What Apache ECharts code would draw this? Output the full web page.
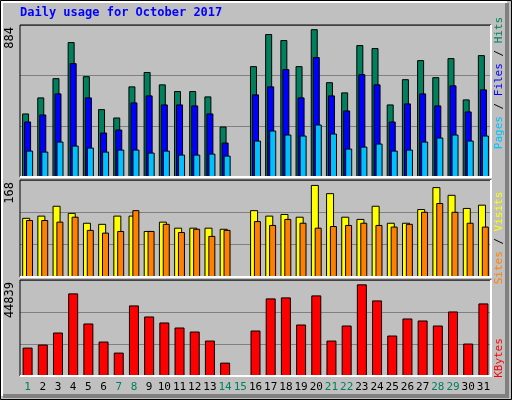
<!DOCTYPE html>
<html><head><meta charset="utf-8">
<script src="https://cdn.jsdelivr.net/npm/echarts@6/dist/echarts.min.js"></script>
<style>html,body{margin:0;padding:0;background:#c0c0c0}#chart{width:512px;height:400px}</style>
</head><body><div id="chart"></div>
<script>
// Daily usage – webalizer style, three stacked panels
const days = ["1","2","3","4","5","6","7","8","9","10","11","12","13","14","15","16","17","18","19","20","21","22","23","24","25","26","27","28","29","30","31"];
const weekend = ["1","7","8","14","15","21","22","28","29"];
const hits  = [380,476,591,807,603,406,356,542,628,554,514,514,482,302,0,663,855,819,663,884,567,506,789,771,434,585,699,597,711,464,729];
const files = [332,374,500,681,476,266,284,446,488,434,434,428,380,206,0,494,542,645,476,717,488,398,615,554,332,440,500,428,548,392,524];
const pages = [158,152,212,188,176,152,164,164,146,158,134,134,140,128,0,218,278,254,248,314,260,170,182,200,158,164,212,236,254,218,248];
const visits = [108,112,130,117,99,97,112,112,84,101,90,90,90,88,0,122,112,115,110,168,153,110,106,130,99,99,124,164,150,126,132];
const sites  = [104,104,101,110,86,81,84,122,84,97,82,88,75,86,0,102,95,106,99,90,93,95,99,95,92,97,119,135,119,99,92];
const kbytes = [13900,15380,21270,40410,25690,16850,11450,34520,29120,26180,23720,21760,17340,6540,0,22250,37960,38450,25190,39430,17340,24700,44830,36970,19800,28140,27160,24700,31570,15870,35500];
const maxLabels = ["884", "168", "44839"];

const FONT = "DejaVu Sans Mono";
const chart = echarts.init(document.getElementById("chart"));

const panels = [
  { top: 25, height: 152, max: 909, interval: 303 },
  { top: 180, height: 97, max: 177, interval: 59 },
  { top: 280, height: 96, max: 46960, interval: 15653.33 },
];

const grids = panels.map((p) => ({
  left: 20, width: 471, top: p.top, height: p.height,
  show: true, backgroundColor: "#c0c0c0", borderColor: "#000", borderWidth: 0,
}));

const xAxes = panels.map((p, i) => ({
  type: "category", gridIndex: i, data: days,
  axisLine: { show: false }, axisTick: { show: false },
  axisLabel: i === 2 ? {
    show: true, interval: 0, margin: 6, fontFamily: FONT, fontSize: 11,
    formatter: (v) => (weekend.includes(v) ? "{w|" + v + "}" : v),
    color: "#000", rich: { w: { color: "#00805c", fontFamily: FONT, fontSize: 11 } },
  } : { show: false },
}));

const yAxes = panels.map((p, i) => ({
  type: "value", gridIndex: i, min: 0, max: p.max, interval: p.interval,
  axisLabel: { show: false }, axisLine: { show: false }, axisTick: { show: false },
  splitLine: { lineStyle: { color: "#808080", width: 1 } },
}));

function bar(name, data, color, xi, width, gap) {
  return {
    name, type: "bar", xAxisIndex: xi, yAxisIndex: xi, data,
    barWidth: width, barGap: gap, animation: false,
    itemStyle: { color, borderColor: "#000", borderWidth: 1 },
  };
}

// bevelled frames around the panels
const frames = [];
panels.forEach((p) => {
  frames.push({ type: "polyline", shape: { points: [[20, p.top + p.height], [20, p.top], [491, p.top]] }, style: { stroke: "#000", lineWidth: 1, fill: null }, z: 10 });
  frames.push({ type: "polyline", shape: { points: [[20, p.top + p.height], [491, p.top + p.height], [491, p.top]] }, style: { stroke: "#fff", lineWidth: 2, fill: null }, z: 10 });
});

const sideLabels = [
  { y: 83, rich: [["Pages", "#00c0ff"], [" / ", "#000"], ["Files", "#0000ff"], [" / ", "#000"], ["Hits", "#00805c"]] },
  { y: 238, rich: [["Sites", "#ff8000"], [" / ", "#000"], ["Visits", "#ffff00"]] },
  { y: 358, rich: [["KBytes", "#ff0000"]] },
];

const graphics = [
  { type: "rect", shape: { x: 0.5, y: 0.5, width: 511, height: 399 }, style: { fill: null, stroke: "#000", lineWidth: 1 }, z: 20 },
  { type: "polyline", shape: { points: [[507, 3], [507, 396], [3, 396]] }, style: { stroke: "#808080", lineWidth: 4, fill: null }, z: 20 },
  { type: "polyline", shape: { points: [[2, 396], [2, 2], [507, 2]] }, style: { stroke: "#fff", lineWidth: 2, fill: null }, z: 20 },
  { type: "text", left: 20, top: 7, style: { text: "Daily usage for October 2017", fill: "#0000ff", font: "bold 12px " + FONT }, z: 20 },
  ...frames,
  ...panels.map((p, i) => ({
    type: "text", x: 10, y: p.top + 2, rotation: Math.PI / 2,
    style: { text: maxLabels[i], fill: "#000", font: "12px " + FONT, align: "right", verticalAlign: "middle" }, z: 20,
  })),
  ...sideLabels.map((s) => {
    const rich = {};
    s.rich.forEach((r, k) => { rich["r" + k] = { fill: r[1], font: "11px " + FONT }; });
    return {
      type: "text", x: 499, y: s.y, rotation: Math.PI / 2,
      style: { text: s.rich.map((r, k) => "{r" + k + "|" + r[0] + "}").join(""), rich, align: "center", verticalAlign: "middle" }, z: 20,
    };
  }),
];

chart.setOption({
  backgroundColor: "#c0c0c0",
  animation: false,
  grid: grids,
  xAxis: xAxes,
  yAxis: yAxes,
  graphic: graphics,
  series: [
    bar("Hits", hits, "#00805c", 0, 7, "-71%"),
    bar("Files", files, "#0000ff", 0, 7, "-71%"),
    bar("Pages", pages, "#00c0ff", 0, 7, "-71%"),
    bar("Visits", visits, "#ffff00", 1, 8, "-52%"),
    bar("Sites", sites, "#ff8000", 1, 7, "-52%"),
    bar("KBytes", kbytes, "#ff0000", 2, 10, "0%"),
  ],
});
</script></body></html>
